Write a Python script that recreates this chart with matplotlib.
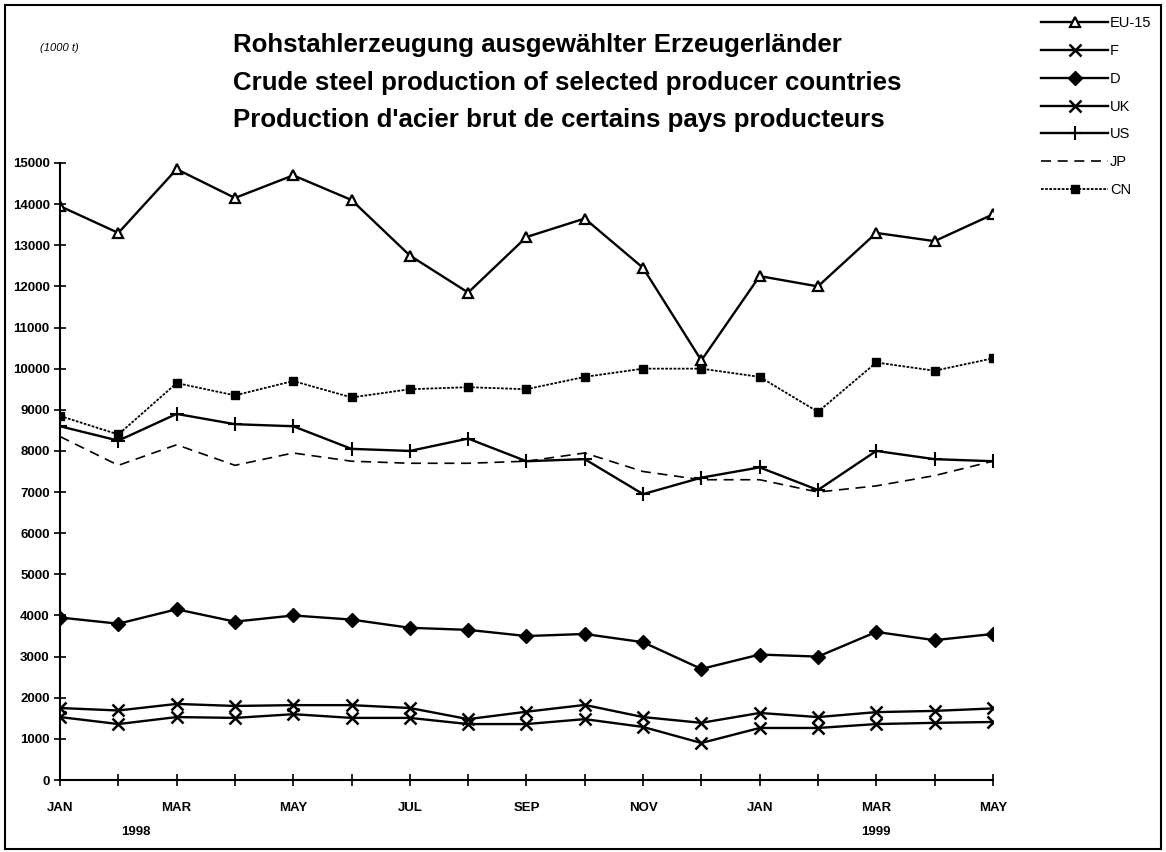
import matplotlib.pyplot as plt
import numpy as np
from matplotlib.patches import Rectangle

plt.rcParams['font.family'] = ['Liberation Sans', 'DejaVu Sans']

# Monatswerte Jan 1998 - Mai 1999 (1000 t)
months = ['JAN', 'FEB', 'MAR', 'APR', 'MAY', 'JUN', 'JUL', 'AUG', 'SEP', 'OCT', 'NOV', 'DEC',
          'JAN', 'FEB', 'MAR', 'APR', 'MAY']
eu15 = [13950, 13300, 14850, 14150, 14700, 14100, 12750, 11850, 13200, 13650, 12450, 10200,
        12250, 12000, 13300, 13100, 13750]
f = [1750, 1690, 1850, 1800, 1820, 1820, 1750, 1480, 1660, 1825, 1530, 1390,
     1630, 1530, 1650, 1680, 1740]
d = [3950, 3800, 4150, 3850, 4000, 3900, 3700, 3650, 3500, 3550, 3350, 2700,
     3050, 3000, 3600, 3400, 3550]
uk = [1530, 1360, 1530, 1510, 1600, 1510, 1510, 1360, 1360, 1480, 1290, 900,
      1265, 1265, 1360, 1390, 1410]
us = [8600, 8250, 8900, 8650, 8600, 8050, 8000, 8300, 7750, 7800, 6950, 7350,
      7600, 7050, 8000, 7800, 7750]
jp = [8350, 7650, 8150, 7650, 7950, 7750, 7700, 7700, 7750, 7950, 7500, 7300,
      7300, 7000, 7150, 7400, 7750]
cn = [8850, 8400, 9650, 9350, 9700, 9300, 9500, 9550, 9500, 9800, 10000, 10000,
      9800, 8950, 10150, 9950, 10250]

x = np.arange(len(months))

fig = plt.figure(figsize=(11.66, 8.52), dpi=100)
ax = fig.add_axes([0.0515, 0.0845, 0.80, 0.7242])

lw = 1.7
ax.plot(x, eu15, color='black', lw=lw, marker='^', ms=6.5, mfc='white', mew=1.6, label='EU-15')
ax.plot(x, f, color='black', lw=lw, marker='x', ms=8, mew=1.8, label='F')
ax.plot(x, d, color='black', lw=lw, marker='D', ms=7, label='D')
ax.plot(x, uk, color='black', lw=lw, marker='x', ms=8, mew=1.8, label='UK')
ax.plot(x, us, color='black', lw=lw, marker='+', ms=10, mew=1.5, label='US')
ax.plot(x, jp, color='black', lw=1.2, ls=(0, (6, 4)), label='JP')
ax.plot(x, cn, color='black', lw=1.3, ls=(0, (1.5, 0.8)), marker='s', ms=6, label='CN')

ax.set_xlim(0, len(months) - 1)
ax.set_ylim(0, 15000)
ax.set_yticks(np.arange(0, 15001, 1000))
ax.set_xticks(x)
ax.set_xticklabels([m if i % 2 == 0 else '' for i, m in enumerate(months)])
ax.tick_params(axis='both', direction='inout', length=8, width=1.2, labelsize=9.5)
ax.tick_params(axis='x', pad=12)
ax.spines['top'].set_visible(False)
ax.spines['right'].set_visible(False)
ax.spines['left'].set_linewidth(1.5)
ax.spines['bottom'].set_linewidth(1.5)
for lab in ax.get_xticklabels() + ax.get_yticklabels():
    lab.set_fontweight('bold')

ax.text(1.3, -0.075, '1998', transform=ax.get_xaxis_transform(), ha='center', va='top',
        fontsize=9.5, fontweight='bold')
ax.text(14.0, -0.075, '1999', transform=ax.get_xaxis_transform(), ha='center', va='top',
        fontsize=9.5, fontweight='bold')

# Titel
fig.text(0.200, 0.947, 'Rohstahlerzeugung ausgewählter Erzeugerländer', ha='left', va='center',
         fontsize=18.6, fontweight='bold')
fig.text(0.200, 0.903, 'Crude steel production of selected producer countries', ha='left',
         va='center', fontsize=18.6, fontweight='bold')
fig.text(0.200, 0.859, "Production d'acier brut de certains pays producteurs", ha='left',
         va='center', fontsize=18.6, fontweight='bold')
fig.text(0.034, 0.944, '(1000 t)', ha='left', va='center', fontsize=8, style='italic')

fig.legend(loc='upper left', bbox_to_anchor=(0.888, 0.988), frameon=False, fontsize=10.5,
           handlelength=4.6, handletextpad=0.1, labelspacing=0.95, borderaxespad=0)

fig.patches.append(Rectangle((0.004, 0.004), 0.992, 0.99, transform=fig.transFigure,
                             fill=False, lw=1.5, color='black'))

plt.savefig('out.png', dpi=100)
